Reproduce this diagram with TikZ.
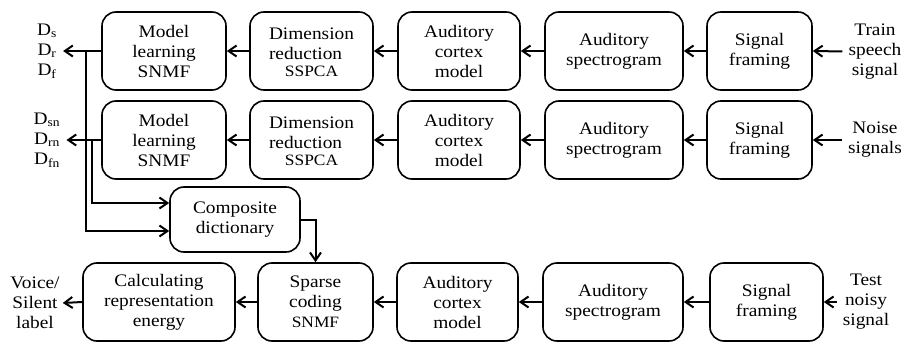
\documentclass[tikz,border=0pt]{standalone}
\usepackage{fontspec}
\setmainfont{Liberation Serif}[FakeStretch=1.1]
\usetikzlibrary{arrows.meta,positioning,calc}
\newcommand{\smalltxt}{\fontsize{15.8}{20}\selectfont}

\begin{document}
\begin{tikzpicture}[x=1pt,y=-1pt,>={Straight Barb[length=8pt,width=11pt]},
    box/.style={draw,line width=1.6pt,rounded corners=14pt,align=center,minimum height=78pt,inner sep=2pt,font=\fontsize{17.6}{20}\selectfont},
    lbl/.style={align=center,inner xsep=6pt,font=\fontsize{17.6}{20}\selectfont},
    arr/.style={->,line width=2pt}]
    \useasboundingbox (0,0) rectangle (910,345);
    % Training rows (speech, noise)
    \foreach \r/\y in {1/51,2/140} {
      \node[box,minimum width=124pt] (ml\r) at (164,\y) {Model\\learning\\SNMF};
      \node[box,minimum width=123pt] (dr\r) at (311.5,\y) {\begin{tabular}{@{}l@{}}Dimension\\reduction\end{tabular}\\{\smalltxt SSPCA}};
      \node[box,minimum width=122pt] (ac\r) at (459,\y) {Auditory\\cortex\\model};
      \node[box,minimum width=138pt] (sp\r) at (614,\y) {Auditory\\spectrogram};
      \node[box,minimum width=105pt] (sf\r) at (759.5,\y) {Signal\\framing};
      \draw[arr] (sf\r.west) -- (sp\r.east);
      \draw[arr] (sp\r.west) -- (ac\r.east);
      \draw[arr] (ac\r.west) -- (dr\r.east);
      \draw[arr] (dr\r.west) -- (ml\r.east);
    }
    \node[lbl] (in1) at (875,52) {Train\\speech\\signal};
    \node[lbl] (in2) at (875,140) {Noise\\signals};
    \node[lbl] (out1) at (47,51) {D\textsubscript{s}\\D\textsubscript{r}\\D\textsubscript{f}};
    \node[lbl] (out2) at (47,140) {D\textsubscript{sn}\\D\textsubscript{rn}\\D\textsubscript{fn}};
    \draw[arr] (in1) -- (sf1.east);
    \draw[arr] (in2) -- (sf2.east);
    \draw[arr] (ml1.west) -- (out1.east);
    \draw[arr] (ml2.west) -- (out2.east);
    % Dictionaries into composite
    \node[box,minimum width=130pt,minimum height=65pt] (cd) at (235,219.5) {Composite\\dictionary};
    \coordinate (b1) at (86,51);
    \coordinate (b2) at (92,140);
    \draw[arr] (b1) |- ([yshift=-11.5pt]cd.west);
    \draw[arr] (b2) |- ([yshift=16.5pt]cd.west);
    % Test row
    \node[box,minimum width=152pt] (ce) at (159,302) {Calculating\\representation\\energy};
    \node[box,minimum width=115pt] (sc) at (315.5,302) {Sparse\\coding\\{\smalltxt SNMF}};
    \node[box,minimum width=121pt] (ac3) at (457.5,302) {Auditory\\cortex\\model};
    \node[box,minimum width=140pt] (sp3) at (613,302) {Auditory\\spectrogram};
    \node[box,minimum width=113pt] (sf3) at (766.5,302) {Signal\\framing};
    \node[lbl] (in3) at (866,302) {Test\\noisy\\signal};
    \node[lbl,inner xsep=3pt] (out3) at (35,303) {Voice/\\Silent\\label};
    \draw[arr] (in3) -- (sf3.east);
    \draw[arr] (sf3.west) -- (sp3.east);
    \draw[arr] (sp3.west) -- (ac3.east);
    \draw[arr] (ac3.west) -- (sc.east);
    \draw[arr] (sc.west) -- (ce.east);
    \draw[arr] (ce.west) -- (out3.east);
    \draw[arr] (cd.east) -| (sc.north);
\end{tikzpicture}
\end{document}
